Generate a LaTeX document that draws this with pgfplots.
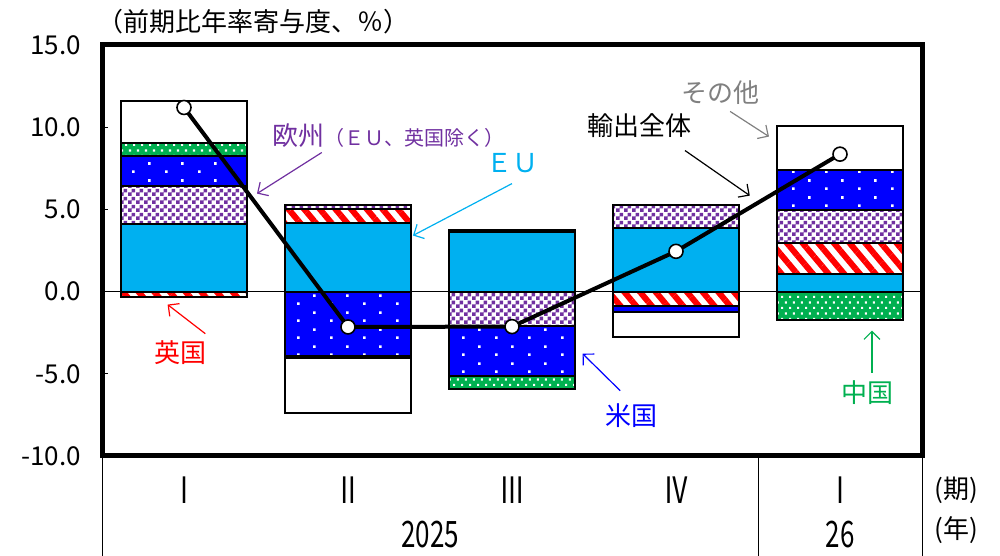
\documentclass[border=0pt]{standalone}
\usepackage{fontspec}
\setmainfont{Noto Sans CJK JP}
\usepackage{pgfplots}
\usepackage{pgfplotstable}
\pgfplotsset{compat=1.18}
\usetikzlibrary{patterns.meta, arrows.meta}

\definecolor{euc}{HTML}{00B0F0}
\definecolor{ukc}{HTML}{FF0000}
\definecolor{eurc}{HTML}{7030A0}
\definecolor{usc}{HTML}{0000FF}
\definecolor{cnc}{HTML}{00B050}
\definecolor{otc}{HTML}{808080}

% white dots on blue (sparse) and on green (dense)
\pgfdeclarepattern{
  name=usdots, type=uncolored,
  bottom left={\pgfpoint{0pt}{0pt}},
  top right={\pgfpoint{16.5pt}{8.3pt}},
  tile size={\pgfpoint{16.5pt}{8.3pt}},
  code={
    \pgfpathrectangle{\pgfpoint{0pt}{0pt}}{\pgfpoint{1.3pt}{1.3pt}}
    \pgfpathrectangle{\pgfpoint{8.25pt}{4.15pt}}{\pgfpoint{1.3pt}{1.3pt}}
    \pgfusepath{fill}
  }
}
\pgfdeclarepattern{
  name=cndots, type=uncolored,
  bottom left={\pgfpoint{0pt}{0pt}},
  top right={\pgfpoint{4.2pt}{5.7pt}},
  tile size={\pgfpoint{4.2pt}{5.7pt}},
  code={
    \pgfpathrectangle{\pgfpoint{0pt}{0pt}}{\pgfpoint{1.1pt}{1.1pt}}
    \pgfpathrectangle{\pgfpoint{2.1pt}{2.85pt}}{\pgfpoint{1.1pt}{1.1pt}}
    \pgfusepath{fill}
  }
}
\pgfdeclarepattern{
  name=checker, type=uncolored,
  bottom left={\pgfpoint{0pt}{0pt}},
  top right={\pgfpoint{4pt}{4pt}},
  tile size={\pgfpoint{4pt}{4pt}},
  code={
    \pgfpathrectangle{\pgfpoint{0pt}{0pt}}{\pgfpoint{2pt}{2pt}}
    \pgfpathrectangle{\pgfpoint{2pt}{2pt}}{\pgfpoint{2pt}{2pt}}
    \pgfusepath{fill}
  }
}

% contributions, positive and negative parts stacked separately
\pgfplotstableread{
x EU UK EUR US CN OT
0 4.10 0.00 2.35 1.80 0.80 2.55
1 4.20 0.85 0.20 0.00 0.00 0.00
2 3.65 0.00 0.00 0.00 0.00 0.12
3 3.86 0.00 1.38 0.00 0.00 0.00
4 1.08 1.89 1.97 2.44 0.00 2.70
}\posdata
\pgfplotstableread{
x EU UK EUR US CN OT
0 0 -0.35 0.00 0.00 0.00 0.00
1 0 0.00 0.00 -3.90 -0.15 -3.35
2 0 0.00 -2.07 -3.05 -0.78 0.00
3 0 -0.85 0.00 -0.41 0.00 -1.53
4 0 0.00 0.00 0.00 -1.72 0.00
}\negdata
\pgfplotstableread{
x T
0 11.20
1 -2.15
2 -2.13
3 2.45
4 8.36
}\totdata

\pgfplotsset{
  base/.style={
    scale only axis, width=410pt, height=205.5pt,
    at={(51pt,50pt)}, anchor=south west,
    xmin=-0.5, xmax=4.5, ymin=-10, ymax=15,
  },
  bars/.style={base, hide axis, ybar stacked, bar width=0.774},
  seg/.style={draw=black, line width=1pt},
}

\newcommand{\stackbars}[1]{%
  \addplot[seg, fill=euc] table[x=x,y=EU]{#1};
  \addplot[seg, fill=white, pattern={Lines[angle=-50,distance=6pt,line width=3pt]}, pattern color=ukc] table[x=x,y=UK]{#1};
  \addplot[seg, preaction={fill=white}, pattern=checker, pattern color=eurc] table[x=x,y=EUR]{#1};
  \addplot[seg, preaction={fill=usc}, pattern=usdots, pattern color=white] table[x=x,y=US]{#1};
  \addplot[seg, preaction={fill=cnc}, pattern=cndots, pattern color=white] table[x=x,y=CN]{#1};
  \addplot[seg, fill=white] table[x=x,y=OT]{#1};
}
% tall, narrow look of the period labels
\newcommand{\tall}[1]{\scalebox{1}[1.4]{#1}}

\begin{document}
\begin{tikzpicture}[font=\fontsize{13pt}{15pt}\selectfont]
\useasboundingbox (0,0) rectangle (500pt,278pt);

\begin{axis}[bars]
\stackbars{\posdata}
\end{axis}

\begin{axis}[bars]
\stackbars{\negdata}
\end{axis}

\begin{axis}[
    base, clip=false,
    axis line style={line width=2.5pt},
    xtick=\empty,
    ytick={-10,-5,0,5,10,15},
    yticklabels={-10.0,-5.0,0.0,5.0,10.0,15.0},
    ytick pos=left, tick align=inside,
    major tick length=3pt,
    tick style={black, line width=0.6pt},
    yticklabel style={font=\fontsize{13pt}{15pt}\selectfont, xshift=-7pt},
    /pgf/number format/assume math mode=true,
    extra y ticks={0}, extra y tick labels={},
    extra y tick style={grid=major, major tick length=0pt,
      grid style={black, line width=0.6pt}},
]
\addplot[black, line width=2pt, mark=*, mark size=3.5pt,
  mark options={fill=white, draw=black, line width=0.8pt}]
  table[x=x,y=T]{\totdata};

% quarter and year labels below the axis
\node at ([yshift=-17pt]axis cs:0,-10) {\tall{Ⅰ}};
\node at ([yshift=-17pt]axis cs:1,-10) {\tall{Ⅱ}};
\node at ([yshift=-17pt]axis cs:2,-10) {\tall{Ⅲ}};
\node at ([yshift=-17pt]axis cs:3,-10) {\tall{Ⅳ}};
\node at ([yshift=-17pt]axis cs:4,-10) {\tall{Ⅰ}};
\node at ([yshift=-39.5pt]axis cs:1.5,-10) {\tall{2025}};
\node at ([yshift=-39.5pt]axis cs:4,-10) {\tall{26}};
\node at ([yshift=-17pt]axis cs:4.71,-10) {(期)};
\node at ([yshift=-37pt]axis cs:4.71,-10) {(年)};
\draw[black, line width=0.5pt] (axis cs:-0.5,-10) -- ([yshift=-50pt]axis cs:-0.5,-10);
\draw[black, line width=0.5pt] (axis cs:3.5,-10) -- ([yshift=-50pt]axis cs:3.5,-10);
\draw[black, line width=0.5pt] (axis cs:4.5,-10) -- ([yshift=-50pt]axis cs:4.5,-10);

% series annotations
\tikzset{lab/.style={-{Straight Barb[length=4pt,width=8pt]}, line width=0.6pt}}
\node[ukc] at (axis cs:-0.02,-3.71) {英国};
\draw[lab, ukc] (axis cs:0.13,-2.56) -- (axis cs:-0.10,-0.79);
\node[eurc, anchor=west, inner sep=0pt] at (axis cs:0.54,9.5)
  {欧州{\fontsize{10pt}{12pt}\selectfont （ＥＵ、英国除く）}};
\draw[lab, eurc] (axis cs:0.84,8.46) -- (axis cs:0.445,5.96);
\node[euc] at (axis cs:2.0,7.79) {ＥＵ};
\draw[lab, euc] (axis cs:2.0,6.57) -- (axis cs:1.396,3.41);
\node[otc] at (axis cs:3.27,12.11) {その他};
\draw[lab, otc] (axis cs:3.33,10.96) -- (axis cs:3.567,9.43);
\node at (axis cs:2.78,10.1) {輸出全体};
\draw[lab, black] (axis cs:3.055,8.58) -- (axis cs:3.45,5.84);
\node[usc] at (axis cs:2.73,-7.55) {米国};
\draw[lab, usc] (axis cs:2.66,-6.03) -- (axis cs:2.43,-3.77);
\node[cnc] at (axis cs:4.165,-6.15) {中国};
\draw[lab, cnc] (axis cs:4.195,-4.93) -- (axis cs:4.195,-2.37);
\end{axis}

\node at (126.5pt,267pt) {（前期比年率寄与度、％）};
\end{tikzpicture}
\end{document}
